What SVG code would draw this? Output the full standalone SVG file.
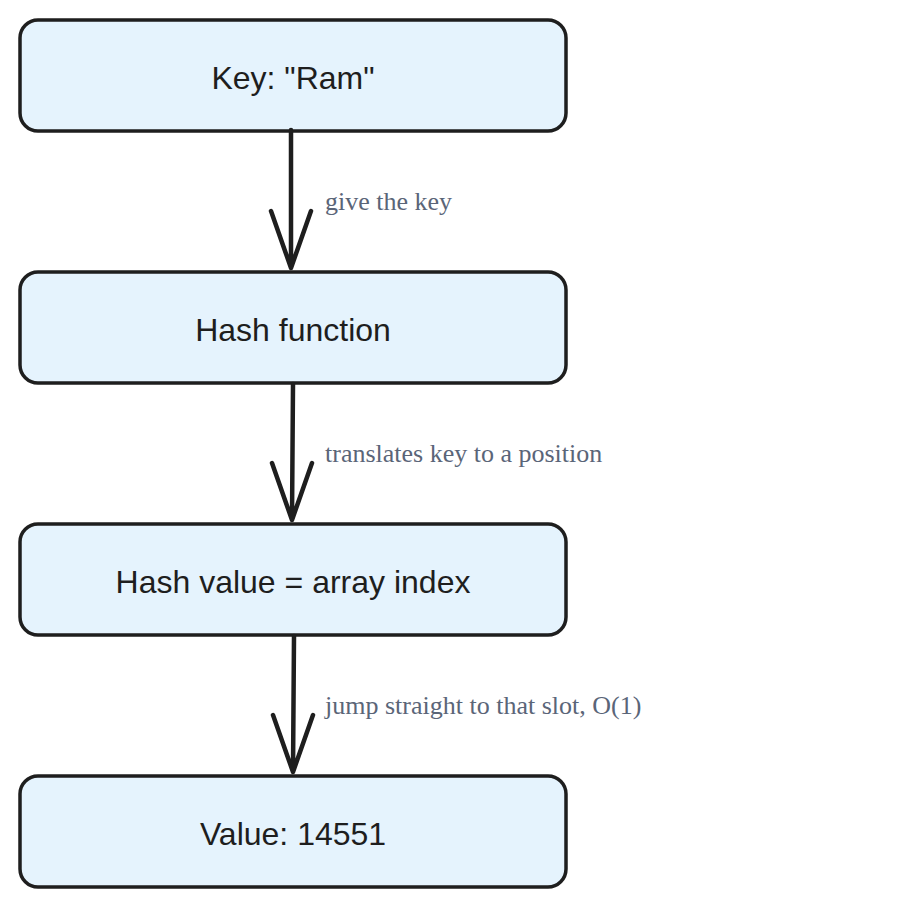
<svg xmlns="http://www.w3.org/2000/svg" width="905" height="908" viewBox="0 0 905 908">
<style>
.box{fill:#e5f3fd;stroke:#1e1e1e;stroke-width:3.5;stroke-linejoin:round}
.t{font-family:"Liberation Sans",Arial,sans-serif;font-size:32px;fill:#1e1e1e;text-anchor:middle}
.lbl{font-family:"Liberation Serif","Times New Roman",serif;font-size:26px;fill:#5a6578}
.edge{stroke:#1e1e1e;stroke-width:4.5;fill:none;stroke-linecap:round;stroke-linejoin:round}
</style>
<rect width="905" height="908" fill="#ffffff"/>
<g id="n1"><rect class="box" x="20" y="20" width="546" height="111" rx="18"/><text class="t" x="293" y="89">Key: "Ram"</text></g>
<g id="n2"><rect class="box" x="20" y="272" width="546" height="111" rx="18"/><text class="t" x="293" y="341">Hash function</text></g>
<g id="n3"><rect class="box" x="20" y="524" width="546" height="111" rx="18"/><text class="t" x="293" y="593">Hash value = array index</text></g>
<g id="n4"><rect class="box" x="20" y="776" width="546" height="111" rx="18"/><text class="t" x="293" y="845">Value: 14551</text></g>
<g id="connectors">
<path class="edge" d="M291 130 L291 268 M271 211 L291 268 L311 211"/>
<path class="edge" d="M293 384 L292 520 M272 463 L292 520 L312 463"/>
<path class="edge" d="M294 636 L293 772 M273 715 L293 772 L313 715"/>
<text class="lbl" x="325" y="210">give the key</text>
<text class="lbl" x="325" y="462">translates key to a position</text>
<text class="lbl" x="325" y="714">jump straight to that slot, O(1)</text>
</g>
</svg>
